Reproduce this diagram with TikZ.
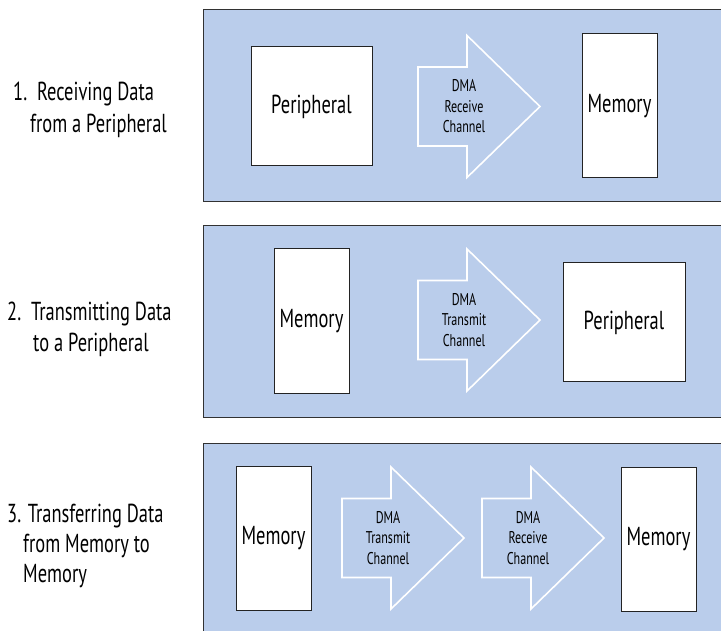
\documentclass[tikz,border=0pt]{standalone}
\usepackage{fontspec}
\setmainfont{PT Sans}[FakeStretch=0.71]
\definecolor{panelblue}{RGB}{186,205,235}
\definecolor{panelborder}{RGB}{50,50,50}
\definecolor{boxborder}{RGB}{35,35,35}
\newcommand\DMAarrow[4]{%
  \draw[dmaarrow] (#2,#3-39.5) -- (#2+49,#3-39.5) -- (#2+49,#3-71) -- (#2+122,#3)
     -- (#2+49,#3+71) -- (#2+49,#3+39.5) -- (#2,#3+39.5) -- cycle;
  \node[dmatext] (#1) at (#2+46,#3) {#4};}
\begin{document}
\begin{tikzpicture}[x=1pt,y=-1pt,
  panel/.style={draw=panelborder, fill=panelblue, line width=1pt},
  box/.style={draw=boxborder, fill=white, line width=1pt, inner sep=0pt,
              font=\fontsize{26}{31}\selectfont},
  dmaarrow/.style={draw=white, line width=1.6pt, line join=miter},
  dmatext/.style={font=\fontsize{17}{20.5}\selectfont, align=center, inner sep=0pt},
  lbl/.style={anchor=base west, font=\fontsize{26}{31}\selectfont, inner sep=0pt}]
\useasboundingbox (0,0) rectangle (721,631);
% panels
\path[panel] (203,10) rectangle (724,202);
\path[panel] (203,226) rectangle (724,417);
\path[panel] (203,443) rectangle (724,634);
% panel 1
\node[box, minimum width=121pt, minimum height=119pt] (per1) at (311.5,106.5) {Peripheral};
\DMAarrow{dma1}{418}{106.5}{DMA\\Receive\\Channel}
\node[box, minimum width=75pt, minimum height=144pt] (mem1) at (619.5,106) {Memory};
% panel 2
\node[box, minimum width=75pt, minimum height=144pt] (mem2) at (311.5,321) {Memory};
\DMAarrow{dma2}{418}{320}{DMA\\Transmit\\Channel}
\node[box, minimum width=122pt, minimum height=119pt] (per2) at (624,322.5) {Peripheral};
% panel 3
\node[box, minimum width=75pt, minimum height=144pt] (mem3) at (273.5,538) {Memory};
\DMAarrow{dma3}{342}{538}{DMA\\Transmit\\Channel}
\DMAarrow{dma4}{482}{538}{DMA\\Receive\\Channel}
\node[box, minimum width=75pt, minimum height=144pt] (mem4) at (658.5,539) {Memory};
% labels
\node[lbl] (l1a) at (13,101) {1.\ \ Receiving Data};
\node[lbl] (l1b) at (30,133) {from a Peripheral};
\node[lbl] (l2a) at (7,320.5) {2.\ \ Transmitting Data};
\node[lbl] (l2b) at (33,351.5) {to a Peripheral};
\node[lbl] (l3a) at (7,522) {3. Transferring Data};
\node[lbl] (l3b) at (23,552.5) {from Memory to};
\node[lbl] (l3c) at (23,582.5) {Memory};
\end{tikzpicture}
\end{document}
